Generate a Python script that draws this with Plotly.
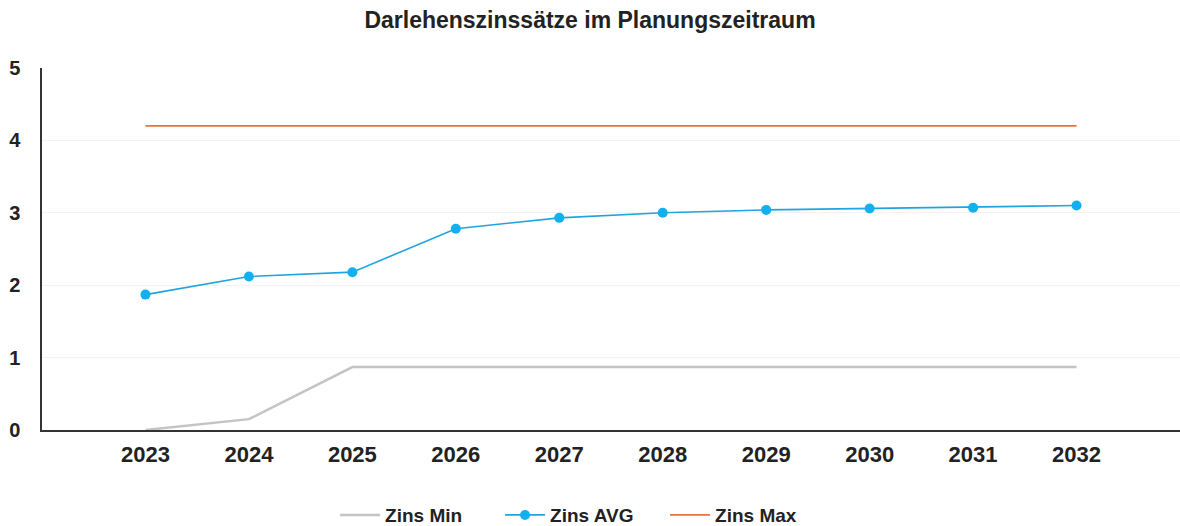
import plotly.graph_objects as go

years = ["2023", "2024", "2025", "2026", "2027", "2028", "2029", "2030", "2031", "2032"]
zins_min = [0.0, 0.15, 0.87, 0.87, 0.87, 0.87, 0.87, 0.87, 0.87, 0.87]
zins_avg = [1.87, 2.12, 2.18, 2.78, 2.93, 3.0, 3.04, 3.06, 3.07, 3.10]
zins_max = [4.2, 4.2, 4.2, 4.2, 4.2, 4.2, 4.2, 4.2, 4.2, 4.2]
y_ticks = [0, 1, 2, 3, 4, 5]

FONT = "Liberation Sans, Arial, sans-serif"

fig = go.Figure()
fig.add_trace(go.Scatter(x=years, y=zins_min, name="Zins Min", mode="lines",
                         line=dict(color="#c4c4c4", width=2.5)))
fig.add_trace(go.Scatter(x=years, y=zins_avg, name="Zins AVG", mode="lines+markers",
                         line=dict(color="#1fa4e0", width=1.6),
                         marker=dict(color="#12b0f0", size=10)))
fig.add_trace(go.Scatter(x=years, y=zins_max, name="Zins Max", mode="lines",
                         line=dict(color="#e8733a", width=1.6)))

fig.update_layout(
    width=1180, height=526,
    margin=dict(l=42, r=0, t=68, b=96, autoexpand=False),
    paper_bgcolor="white", plot_bgcolor="white",
    font=dict(family=FONT, color="#222222"),
    title=dict(text="Darlehenszinssätze im Planungszeitraum", x=0.5, xanchor="center",
               y=0.962, yanchor="middle",
               font=dict(family=FONT, size=23, weight="bold", color="#222222")),
    legend=dict(orientation="h", x=0.475, xanchor="center", y=-0.235, yanchor="middle",
                font=dict(family=FONT, size=19, weight="bold", color="#222222"),
                itemwidth=40, tracegroupgap=0, entrywidth=110, entrywidthmode="pixels"),
    xaxis=dict(type="category", range=[-1.0, 10.0], showgrid=False, automargin=False,
               showline=True, linecolor="#333333", linewidth=1.5,
               ticks="", ticklabelstandoff=4,
               tickfont=dict(family=FONT, size=22, weight="bold", color="#222222")),
    yaxis=dict(range=[0, 5], tickvals=y_ticks, showgrid=True, gridcolor="#f2f2f2",
               showline=True, linecolor="#333333", linewidth=1.5, zeroline=False,
               automargin=False, ticks="", ticklabelstandoff=16,
               tickfont=dict(family=FONT, size=20, weight="bold", color="#222222")),
)

fig.write_html("out.html", config={"displayModeBar": False},
               post_script="document.body.style.margin='0';")
